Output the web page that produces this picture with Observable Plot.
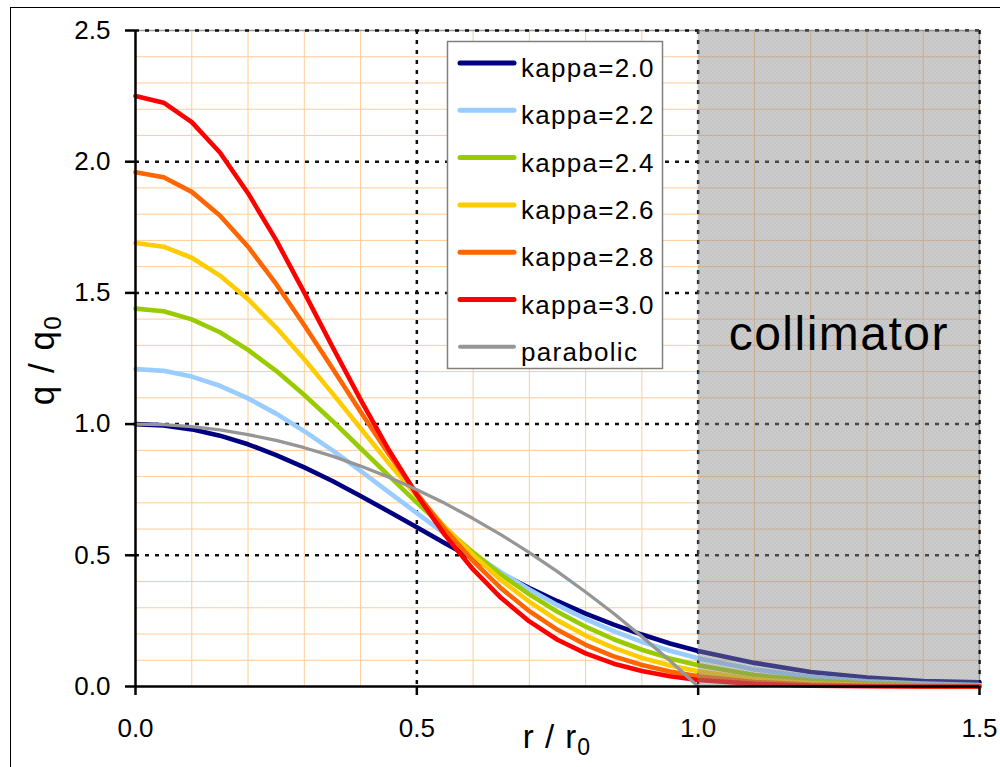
<!DOCTYPE html>
<html><head><meta charset="utf-8">
<script src="https://cdn.jsdelivr.net/npm/d3@7"></script>
<script src="https://cdn.jsdelivr.net/npm/@observablehq/plot@0.6"></script>
<style>
html,body{margin:0;padding:0;background:#fff;overflow:hidden;}
#wrap{position:relative;width:1000px;height:767px;overflow:hidden;font-family:Arial,"Liberation Sans",sans-serif;}
#frame{position:absolute;left:10px;top:7px;width:1200px;height:1000px;border:1px solid #000;pointer-events:none;}
#wrap svg{position:absolute;left:0;top:0;}
</style></head><body><div id="wrap"><div id="frame"></div></div>
<script>
// radius r / r0
const r = [0,0.05,0.1,0.15,0.2,0.25,0.3,0.35,0.4,0.45,0.5,0.55,0.6,0.65,0.7,0.75,0.8,0.85,0.9,0.95,1.0,1.1,1.2,1.3,1.4,1.5];
// q / q0 for each kappa
const kappa20 = [1.000,0.995,0.980,0.956,0.923,0.882,0.835,0.783,0.726,0.667,0.607,0.546,0.487,0.430,0.375,0.325,0.278,0.236,0.198,0.164,0.135,0.090,0.055,0.034,0.021,0.016];
const kappa22 = [1.210,1.203,1.181,1.146,1.098,1.040,0.973,0.900,0.822,0.741,0.661,0.582,0.506,0.435,0.370,0.310,0.257,0.211,0.170,0.136,0.108,0.065,0.037,0.020,0.011,0.006];
const kappa24 = [1.440,1.430,1.399,1.350,1.283,1.203,1.111,1.012,0.908,0.804,0.701,0.603,0.511,0.426,0.351,0.285,0.228,0.180,0.140,0.107,0.081,0.044,0.023,0.011,0.005,0.002];
const kappa26 = [1.690,1.676,1.634,1.566,1.476,1.368,1.247,1.117,0.984,0.852,0.726,0.608,0.501,0.405,0.323,0.252,0.194,0.147,0.109,0.080,0.058,0.028,0.013,0.006,0.002,0.001];
const kappa28 = [1.960,1.941,1.885,1.795,1.676,1.534,1.377,1.213,1.047,0.886,0.736,0.599,0.478,0.374,0.287,0.216,0.159,0.115,0.082,0.057,0.039,0.017,0.007,0.003,0.001,0.000];
const kappa30 = [2.250,2.225,2.151,2.035,1.880,1.701,1.501,1.295,1.093,0.902,0.730,0.577,0.446,0.337,0.248,0.178,0.126,0.087,0.059,0.039,0.025,0.010,0.003,0.001,0.000,0.000];
const parabolic = [1.000,0.998,0.990,0.978,0.960,0.938,0.910,0.878,0.840,0.798,0.750,0.698,0.640,0.578,0.510,0.438,0.360,0.278,0.190,0.098,0.000];

const seriesNames = ["kappa=2.0","kappa=2.2","kappa=2.4","kappa=2.6","kappa=2.8","kappa=3.0","parabolic"];
const seriesColors = ["#000080","#99CCFF","#99CC00","#FFCC00","#FF6600","#FF0000","#969696"];
const seriesValues = [kappa20,kappa22,kappa24,kappa26,kappa28,kappa30,parabolic];

const xTicks = [0.0,0.5,1.0,1.5];
const yTicks = [0.0,0.5,1.0,1.5,2.0,2.5];
const xMinor = [0.1,0.2,0.3,0.4,0.6,0.7,0.8,0.9,1.1,1.2,1.3,1.4];
const yMinor = [0.1,0.2,0.3,0.4,0.6,0.7,0.8,0.9,1.1,1.2,1.3,1.4,1.6,1.7,1.8,1.9,2.1,2.2,2.3,2.4];
const collimator = {label:"collimator", x1:1.0, x2:1.5, y1:0, y2:2.5};

const rows = [];
seriesValues.forEach((vals,i)=>vals.forEach((v,j)=>rows.push({series:seriesNames[i], r:r[j], q:v})));
const kRows = rows.filter(d=>d.series!=="parabolic");
const pRows = rows.filter(d=>d.series==="parabolic");

const ff = "Arial, 'Liberation Sans', sans-serif";
const plot = Plot.plot({
  width:1000, height:767,
  marginTop:30, marginRight:21, marginBottom:81, marginLeft:135,
  x:{domain:[0,1.5]},
  y:{domain:[0,2.5]},
  color:{domain:seriesNames, range:seriesColors},
  style:{fontFamily:ff, color:"#000", background:"transparent", overflow:"visible"},
  marks:[
    Plot.ruleX(xMinor,{stroke:"#FFCC99", strokeWidth:1}),
    Plot.ruleY(yMinor,{stroke:"#FFCC99", strokeWidth:1}),
    Plot.ruleY([2.5],{stroke:"#999999", strokeWidth:1.5}),
    Plot.ruleX([1.5],{stroke:"#999999", strokeWidth:1.5}),
    Plot.ruleY(yTicks.filter(d=>d>0),{stroke:"#111", strokeWidth:2.5, strokeDasharray:"4,6"}),
    Plot.ruleX(xTicks.filter(d=>d>0),{stroke:"#111", strokeWidth:2.5, strokeDasharray:"4,6"}),
    Plot.line(kRows,{x:"r", y:"q", z:"series", stroke:"series", strokeWidth:4.6, strokeLinejoin:"round", strokeLinecap:"round"}),
    Plot.line(pRows,{x:"r", y:"q", stroke:"series", strokeWidth:3.3, strokeLinejoin:"round", strokeLinecap:"round"}),
    Plot.rect([collimator],{x1:"x1", x2:"x2", y1:"y1", y2:"y2", fill:"#8e8e8e", fillOpacity:0.45}),
    Plot.rect([collimator],{x1:"x1", x2:"x2", y1:"y1", y2:"y2", fill:"url(#chk)"}),
    Plot.text([collimator],{x:d=>(d.x1+d.x2)/2, y:1.34, text:"label", fontSize:48, fill:"#000"}),
    Plot.ruleX([0],{stroke:"#000", strokeWidth:2.5}),
    Plot.ruleY([0],{stroke:"#000", strokeWidth:2.5}),
    Plot.axisY(yTicks,{tickSize:10, tickPadding:15, fontSize:26, strokeWidth:2.5, tickFormat:d=>d.toFixed(1), label:null}),
    Plot.axisX(xTicks,{tickSize:9, tickPadding:23, fontSize:26, strokeWidth:2.5, tickFormat:d=>d.toFixed(1), label:null})
  ]
});
document.getElementById("wrap").appendChild(plot);

const svg = d3.select(plot);
// fine checkered texture of the collimator fill
const pat = svg.insert("defs",":first-child").append("pattern").attr("id","chk")
  .attr("width",4).attr("height",4).attr("patternUnits","userSpaceOnUse");
pat.append("rect").attr("x",0).attr("y",0).attr("width",2).attr("height",2).attr("fill","#000").attr("fill-opacity",0.035);
pat.append("rect").attr("x",2).attr("y",2).attr("width",2).attr("height",2).attr("fill","#000").attr("fill-opacity",0.035);

svg.selectAll("text").attr("fill","#000");
svg.selectAll("text").filter(function(){return this.textContent==="collimator";}).attr("letter-spacing","1.5px");

// legend
const lg = svg.append("g").attr("font-family",ff).attr("text-anchor","start");
lg.append("rect").attr("x",447.5).attr("y",41.5).attr("width",215).attr("height",327)
  .attr("fill","#fff").attr("stroke","#808080").attr("stroke-width",1.5);
seriesNames.forEach((name,i)=>{
  const y = 63 + i*47.3;
  lg.append("line").attr("x1",460).attr("x2",514).attr("y1",y).attr("y2",y)
    .attr("stroke",seriesColors[i]).attr("stroke-width",i<6?5:4).attr("stroke-linecap","round");
  lg.append("text").attr("x",521).attr("y",y+14).attr("font-size",26).attr("letter-spacing","1.3px")
    .attr("text-anchor","start").attr("fill","#000").text(name);
});

// axis titles
const yt = svg.append("text").attr("transform","translate(54,360) rotate(-90)")
  .attr("text-anchor","middle").attr("font-size",35).attr("font-family",ff).attr("letter-spacing","1.5px").attr("fill","#000");
yt.append("tspan").text("q / q");
yt.append("tspan").attr("font-size",24).attr("dy",7).text("0");
const xt = svg.append("text").attr("x",557).attr("y",748)
  .attr("text-anchor","middle").attr("font-size",33).attr("font-family",ff).attr("letter-spacing","1px").attr("fill","#000");
xt.append("tspan").text("r / r");
xt.append("tspan").attr("font-size",23).attr("dy",7).text("0");
</script></body></html>
